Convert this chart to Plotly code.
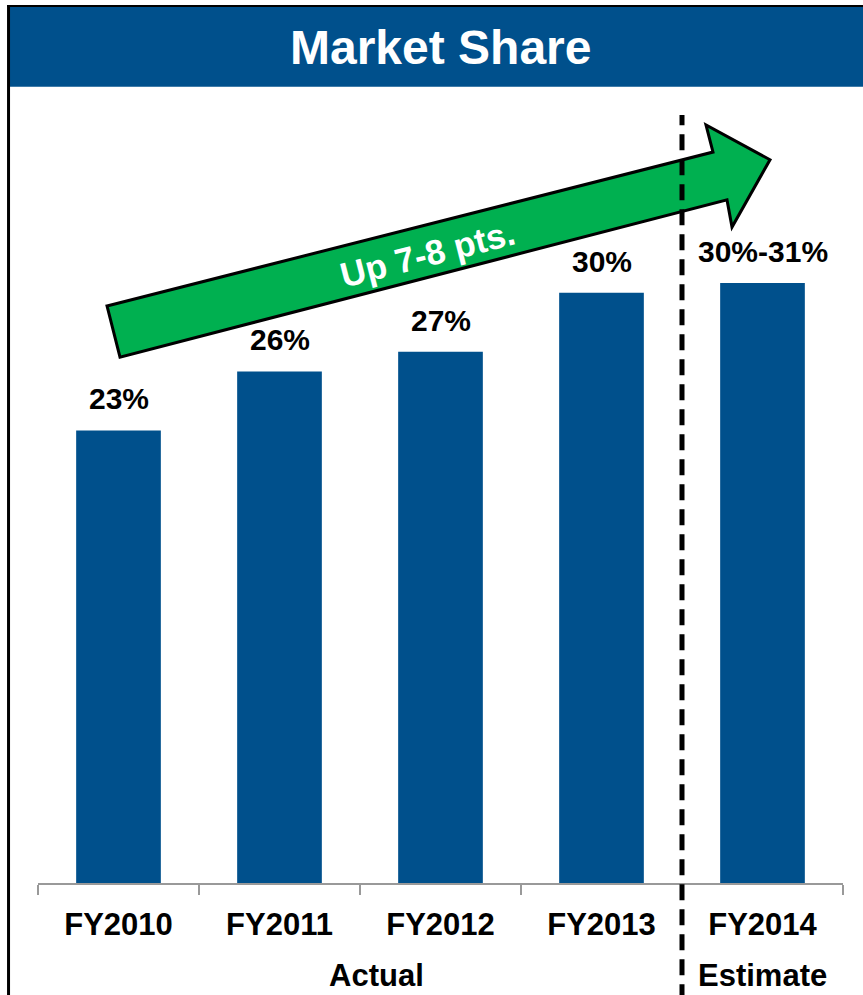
import plotly.graph_objects as go

# Market share by fiscal year (FY2014 is the 30%-31% estimate, drawn at its midpoint)
categories = ["FY2010", "FY2011", "FY2012", "FY2013", "FY2014"]
share = [23, 26, 27, 30, 30.5]
share_labels = ["23%", "26%", "27%", "30%", "30%-31%"]
period_labels = ["Actual", "Estimate"]
trend_text = "Up 7-8 pts."

BLUE = "#00508C"
GREEN = "#00B050"
FONT = "Liberation Sans, Arial, Helvetica, sans-serif"

x_pos = list(range(len(categories)))

fig = go.Figure()
fig.add_trace(go.Bar(
    x=x_pos, y=share,
    marker=dict(color=BLUE, line=dict(width=0)),
    width=0.526,
    hoverinfo="skip",
))

# value labels above each bar
for xi, v, t in zip(x_pos, share, share_labels):
    fig.add_annotation(
        x=xi, y=v, text=t, showarrow=False, yanchor="bottom", yshift=13,
        font=dict(family=FONT, size=30, color="black", weight="bold"),
    )

# green trend arrow (data coordinates)
arrow_pts = [
    (-0.0714, 29.33), (3.6925, 37.15), (3.649, 38.53), (4.0466, 36.76),
    (3.8106, 33.34), (3.7795, 34.72), (0.0093, 26.73),
]
path = "M " + " L ".join(f"{px},{py}" for px, py in arrow_pts) + " Z"
fig.add_shape(type="path", path=path, xref="x", yref="y",
              fillcolor=GREEN, line=dict(color="black", width=3), layer="above")
fig.add_annotation(
    x=1.922, y=32.0, xref="x", yref="y", text=trend_text, showarrow=False,
    textangle=-14.3,
    font=dict(family=FONT, size=35, color="white", weight="bold"),
)

# dashed divider between actual and estimate
fig.add_shape(type="line", xref="x", yref="paper", x0=3.5, x1=3.5,
              y0=-0.149, y1=0.976, line=dict(color="black", width=5, dash="16px,9px"))

# title banner and frame
fig.add_shape(type="rect", xref="paper", yref="paper",
              x0=-0.036, x1=1.03, y0=1.0118, y1=1.1131,
              fillcolor=BLUE, line=dict(width=0), layer="below")
fig.add_shape(type="line", xref="paper", yref="paper",
              x0=-0.0385, x1=1.03, y0=1.1144, y1=1.1144,
              line=dict(color="black", width=2))
fig.add_shape(type="line", xref="paper", yref="paper",
              x0=-0.0366, x1=-0.0366, y0=-0.149, y1=1.1156,
              line=dict(color="black", width=3))
fig.add_annotation(
    x=0.5006, y=1.0616, xref="paper", yref="paper", text="Market Share",
    showarrow=False, yanchor="middle",
    font=dict(family=FONT, size=48, color="white", weight="bold"),
)

# period labels under the categories
fig.add_annotation(x=1.6, y=-0.118, xref="x", yref="paper", text=period_labels[0],
                   showarrow=False, yanchor="middle",
                   font=dict(family=FONT, size=31, color="black", weight="bold"))
fig.add_annotation(x=4.0, y=-0.118, xref="x", yref="paper", text=period_labels[1],
                   showarrow=False, yanchor="middle",
                   font=dict(family=FONT, size=31, color="black", weight="bold"))

fig.update_layout(
    width=863, height=995,
    margin=dict(l=38, r=20, t=96, b=112),
    paper_bgcolor="white", plot_bgcolor="white",
    showlegend=False,
    xaxis=dict(
        range=[-0.5, 4.5], tickvals=x_pos, ticktext=categories,
        ticks="", showline=True, linecolor="#999999", linewidth=1.5,
        showgrid=False, zeroline=False, fixedrange=True,
        tickfont=dict(family=FONT, size=31, color="black", weight="bold"),
        ticklabelstandoff=13,
        minor=dict(tickvals=[i - 0.5 for i in range(len(categories) + 1)],
                   ticks="outside", ticklen=10, tickwidth=1.5, tickcolor="#999999",
                   showgrid=False),
    ),
    yaxis=dict(range=[0, 40], visible=False, showgrid=False, fixedrange=True),
)

fig.write_html("out.html")
